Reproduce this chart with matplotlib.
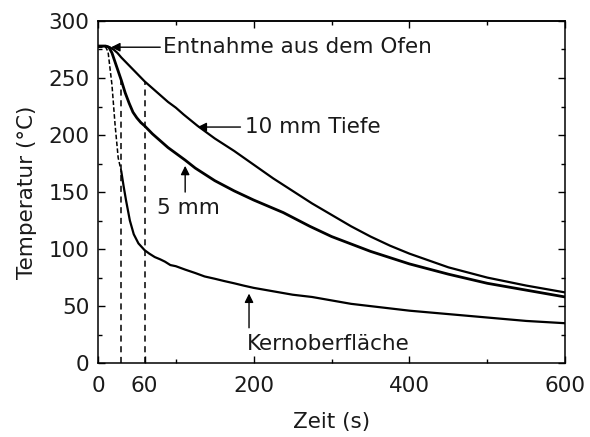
import matplotlib
matplotlib.use("Agg")
import matplotlib.pyplot as plt
from matplotlib.ticker import MultipleLocator

plt.rcParams['font.family'] = ['DejaVu Sans']
plt.rcParams['font.size'] = 15.5

zeit_10mm = [0, 10, 15, 20, 25, 30, 40, 50, 60, 70, 80, 90, 100, 110, 128, 150, 175, 200, 225, 250, 275, 300,
             325, 350, 375, 400, 425, 450, 500, 550, 600]
temp_10mm = [278, 278, 277, 275, 272, 268, 261, 254, 247, 241, 235, 229, 224, 218, 208, 197, 186, 174, 162, 151, 140, 130,
             120, 111, 103, 96, 90, 84, 75, 68, 62]

zeit_5mm = [0, 10, 14, 18, 22, 26, 30, 35, 40, 45, 50, 55, 60, 70, 80, 90, 100, 112, 125, 150, 175, 200,
            238, 272, 300, 350, 400, 450, 500, 550, 600]
temp_5mm = [278, 278, 277, 272, 264, 256, 248, 237, 228, 220, 215, 211, 208, 201, 195, 189, 184, 178, 171, 160, 151, 143,
            132, 120, 111, 98, 87, 78, 70, 64, 58]

# Kernoberflaeche: steiler Teil gestrichelt, danach durchgezogen
zeit_kern_steil = [0, 10, 13, 18, 22, 26, 30]
temp_kern_steil = [277, 277, 273, 244, 209, 180, 168]
zeit_kern = [30, 33, 36, 41, 46, 52, 60, 66, 73, 80, 86, 93, 100, 112, 125, 137, 150, 162, 175, 187, 200, 225, 250,
             275, 300, 325, 350, 375, 400, 450, 500, 550, 600]
temp_kern = [168, 155, 143, 125, 113, 105, 99, 96, 93, 91, 89, 86, 85, 82, 79, 76, 74, 72, 70, 68, 66, 63, 60,
             58, 55, 52, 50, 48, 46, 43, 40, 37, 35]

# Markierte Zeitpunkte (gestrichelte Senkrechte)
zeit_marken = [30, 60]
temp_marken = [248, 247]

x_ticks = [0, 60, 200, 400, 600]
x_ticks_oben = [0, 200, 400, 600]

fig = plt.figure(figsize=(5.9, 4.37), dpi=100)
ax = fig.add_axes([0.166, 0.169, 0.792, 0.783])

ax.plot(zeit_10mm, temp_10mm, color='black', lw=1.6)
ax.plot(zeit_5mm, temp_5mm, color='black', lw=2.0)
ax.plot(zeit_kern_steil, temp_kern_steil, color='black', lw=1.1, ls=(0, (3, 1.5)))
ax.plot(zeit_kern, temp_kern, color='black', lw=1.6)

for t, y in zip(zeit_marken, temp_marken):
    ax.plot([t, t], [0, y], color='black', lw=1.1, ls=(0, (4, 3)))

pfeil = dict(arrowstyle='-|>', color='black', lw=1.0, mutation_scale=13, shrinkA=0, shrinkB=0)

ax.annotate('', xy=(17, 277), xytext=(80, 277), arrowprops=pfeil)
ax.text(84, 277, 'Entnahme aus dem Ofen', ha='left', va='center', color='#1a1a1a')

ax.annotate('', xy=(128, 207), xytext=(183, 207), arrowprops=pfeil)
ax.text(189, 207, '10 mm Tiefe', ha='left', va='center', color='#1a1a1a')

ax.annotate('', xy=(112, 173), xytext=(112, 150), arrowprops=pfeil)
ax.text(76, 136, '5 mm', ha='left', va='center', color='#1a1a1a')

ax.annotate('', xy=(194, 61), xytext=(194, 31), arrowprops=pfeil)
ax.text(191, 17, 'Kernoberfläche', ha='left', va='center', color='#1a1a1a')

ax.set_xlim(0, 600)
ax.set_ylim(0, 300)
ax.set_xticks(x_ticks)
ax.xaxis.set_minor_locator(MultipleLocator(100))
ax.yaxis.set_major_locator(MultipleLocator(50))
ax.yaxis.set_minor_locator(MultipleLocator(25))
ax.tick_params(which='both', direction='in', top=False, right=True, width=1.0, labelcolor='#1a1a1a')
ax.tick_params(which='major', length=5, pad=6)
ax.tick_params(axis='x', which='major', pad=9)
ax.tick_params(which='minor', length=3)
for s in ax.spines.values():
    s.set_linewidth(1.1)

# obere Achse ohne 60er Strich
oben = ax.secondary_xaxis('top')
oben.set_xticks(x_ticks_oben)
oben.xaxis.set_minor_locator(MultipleLocator(100))
oben.tick_params(which='both', direction='in', labeltop=False, width=1.0)
oben.tick_params(which='major', length=5)
oben.tick_params(which='minor', length=3)
oben.spines['top'].set_linewidth(1.1)

ax.set_xlabel('Zeit (s)', labelpad=12, color='#1a1a1a')
ax.set_ylabel('Temperatur (°C)', labelpad=8, color='#1a1a1a')

fig.savefig('out.png', dpi=100)
